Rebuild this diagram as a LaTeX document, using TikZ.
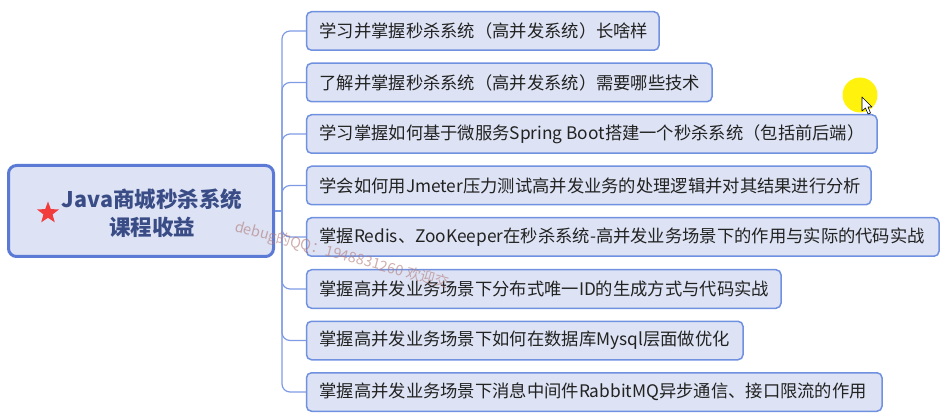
\documentclass[tikz,border=0pt]{standalone}
\usepackage{fontspec}
\setmainfont{Noto Sans CJK SC}
\usetikzlibrary{shapes.geometric}
\definecolor{boxfill}{HTML}{DDE3F4}
\definecolor{mainborder}{HTML}{5A7AD6}
\definecolor{childborder}{HTML}{7090E0}
\definecolor{connc}{HTML}{7F9BE3}
\definecolor{titlec}{HTML}{3A4C86}
\definecolor{textc}{HTML}{222222}
\definecolor{starc}{HTML}{F23C3C}
\definecolor{wmc}{HTML}{B07878}
\tikzset{
  mainbox/.style={draw=mainborder, line width=3pt, fill=boxfill, rounded corners=8pt,
    minimum width=265pt, minimum height=91pt, inner sep=0pt},
  child/.style={draw=childborder, line width=1.5pt, fill=boxfill, rounded corners=5pt,
    minimum height=38.5pt, inner xsep=13pt, inner ysep=0pt, text=textc,
    font=\fontsize{17.3pt}{20pt}\selectfont},
  conn/.style={draw=connc, line width=1.2pt, rounded corners=8pt},
  titletext/.style={text=titlec, font=\fontsize{21.5pt}{28pt}\selectfont\bfseries, align=center},
  wmark/.style={text=wmc, opacity=0.6, font=\fontsize{14.5pt}{16pt}\selectfont, rotate=-15, anchor=west, inner sep=0pt}
}
\newcommand\childbox[4]{%
  \pgfmathsetmacro\bw{#3-332.5}%
  \node[child, anchor=west] (#1) at (305.75pt,-#2pt) {\makebox[\bw pt][l]{#4}};%
}
\begin{document}
\begin{tikzpicture}[x=1pt,y=1pt]
\useasboundingbox (0,0) rectangle (949,-419);
% main node
\node[mainbox] (main) at (141,-211) {};
\node[titletext] (title) at (152,-213) {Java商城秒杀系统\\课程收益};
\node[star, star points=5, star point ratio=2.4, fill=starc, draw=none, minimum size=23pt, inner sep=0pt] (star) at (48,-213) {};
% children
\childbox{c1}{31}{659}{学习并掌握秒杀系统（高并发系统）长啥样}
\childbox{c2}{82.5}{712}{了解并掌握秒杀系统（高并发系统）需要哪些技术}
\childbox{c3}{134}{877}{学习掌握如何基于微服务Spring Boot搭建一个秒杀系统（包括前后端）}
\childbox{c4}{185.5}{871}{学会如何用Jmeter压力测试高并发业务的处理逻辑并对其结果进行分析}
\childbox{c5}{237}{939}{掌握Redis、ZooKeeper在秒杀系统-高并发业务场景下的作用与实际的代码实战}
\childbox{c6}{289}{781}{掌握高并发业务场景下分布式唯一ID的生成方式与代码实战}
\childbox{c7}{340.5}{743}{掌握高并发业务场景下如何在数据库Mysql层面做优化}
\childbox{c8}{392}{882}{掌握高并发业务场景下消息中间件RabbitMQ异步通信、接口限流的作用}
% connectors
\coordinate (sp) at (282,-211);
\draw[conn] (main.east) -- (sp);
\foreach \c in {c1,c2,c3,c4,c5,c6,c7,c8}{
  \draw[conn] (sp) |- (\c.west);
}
% watermark
\node[wmark] (wm) at (235,-227) {debug的QQ：1948831260 欢迎交};
% cursor highlight
\fill[yellow, opacity=0.95] (860,-95) circle (17.5);
\draw[fill=white, draw=black, line width=0.6pt, line join=round]
  (862,-97) -- (862,-111) -- (865.5,-108) -- (868,-114) -- (870.5,-113) -- (868,-107) -- (872,-107) -- cycle;
\end{tikzpicture}
\end{document}
